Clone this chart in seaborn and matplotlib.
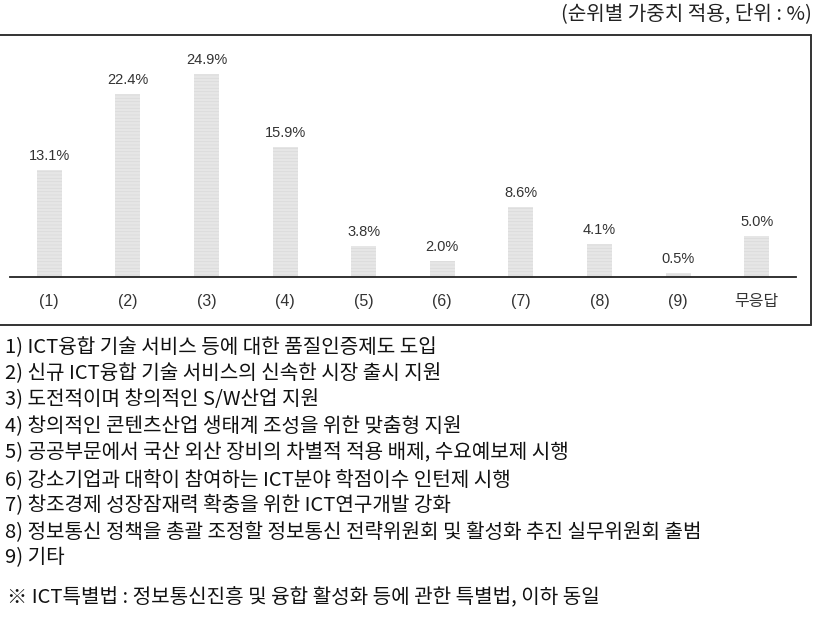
import matplotlib
matplotlib.use("Agg")
import matplotlib.pyplot as plt
import seaborn as sns
import pandas as pd
from matplotlib.lines import Line2D

categories = ["(1)", "(2)", "(3)", "(4)", "(5)", "(6)", "(7)", "(8)", "(9)", "무응답"]
values = [13.1, 22.4, 24.9, 15.9, 3.8, 2.0, 8.6, 4.1, 0.5, 5.0]
value_labels = ["13.1%", "22.4%", "24.9%", "15.9%", "3.8%", "2.0%", "8.6%", "4.1%", "0.5%", "5.0%"]
unit_note = "(순위별 가중치 적용, 단위 : %)"
notes = [
    "1) ICT융합 기술 서비스 등에 대한 품질인증제도 도입",
    "2) 신규 ICT융합 기술 서비스의 신속한 시장 출시 지원",
    "3) 도전적이며 창의적인 S/W산업 지원",
    "4) 창의적인 콘텐츠산업 생태계 조성을 위한 맞춤형 지원",
    "5) 공공부문에서 국산 외산 장비의 차별적 적용 배제, 수요예보제 시행",
    "6) 강소기업과 대학이 참여하는 ICT분야 학점이수 인턴제 시행",
    "7) 창조경제 성장잠재력 확충을 위한 ICT연구개발 강화",
    "8) 정보통신 정책을 총괄 조정할 정보통신 전략위원회 및 활성화 추진 실무위원회 출범",
    "9) 기타",
]
footnote = "※ ICT특별법 : 정보통신진흥 및 융합 활성화 등에 관한 특별법, 이하 동일"

sns.set_style("white")
plt.rcParams["font.family"] = ["Noto Sans CJK KR", "DejaVu Sans"]
plt.rcParams["hatch.linewidth"] = 0.5

W, H = 820, 627
fig = plt.figure(figsize=(W / 100, H / 100), dpi=100)

def fx(px):
    return px / W

def fy(py):
    return 1 - py / H

base_y, top_y = 277, 35
left_x, right_x = 10, 796
ax = fig.add_axes([fx(left_x), fy(base_y), fx(right_x - left_x), (base_y - top_y) / H])

df = pd.DataFrame({"cat": categories, "val": values})
sns.barplot(data=df, x="cat", y="val", color="#e6e6e6", width=0.32, ax=ax,
            saturation=1, edgecolor="#d9d9d9", linewidth=0, hatch="-----")

ax.set_xlim(-0.5, len(categories) - 0.5)
ax.set_ylim(0, (base_y - top_y) / 8.17)
ax.set_xlabel("")
ax.set_ylabel("")
ax.set_yticks([])
for s in ["top", "right", "left"]:
    ax.spines[s].set_visible(False)
ax.spines["bottom"].set_color("#222222")
ax.spines["bottom"].set_linewidth(1.3)

ax.set_xticks(range(len(categories)))
ax.set_xticklabels(categories, family=["Liberation Sans", "Noto Sans CJK KR"],
                   fontsize=11.5, color="#333333")
ax.tick_params(axis="x", which="major", length=0, pad=12)
ax.set_xticks([i - 0.5 for i in range(len(categories) + 1)], minor=True)
ax.tick_params(axis="x", which="minor", direction="in", length=5, width=1.2, color="#222222")

for i, (v, lab) in enumerate(zip(values, value_labels)):
    ax.annotate(lab, (i, v), xytext=(0, 5), textcoords="offset points",
                ha="center", va="bottom", fontsize=10.5,
                family=["Liberation Sans", "DejaVu Sans"], color="#333333")

# frame box
lc = "#333333"
fig.add_artist(Line2D([0, fx(811)], [fy(35), fy(35)], color=lc, lw=1.4))
fig.add_artist(Line2D([0, fx(811)], [fy(325), fy(325)], color=lc, lw=1.4))
fig.add_artist(Line2D([fx(811), fx(811)], [fy(35), fy(325)], color=lc, lw=1.4))

fig.text(fx(812), fy(14), unit_note, ha="right", va="center", fontsize=14.5, color="#222222")

ys = [348, 374, 400, 427, 453, 480, 506, 532, 558]
for y, t in zip(ys, notes):
    fig.text(fx(5), fy(y), t, ha="left", va="center", fontsize=14.5, color="#111111")
fig.text(fx(7), fy(598), footnote, ha="left", va="center", fontsize=14.5, color="#111111")

fig.savefig("out.png", dpi=100)
